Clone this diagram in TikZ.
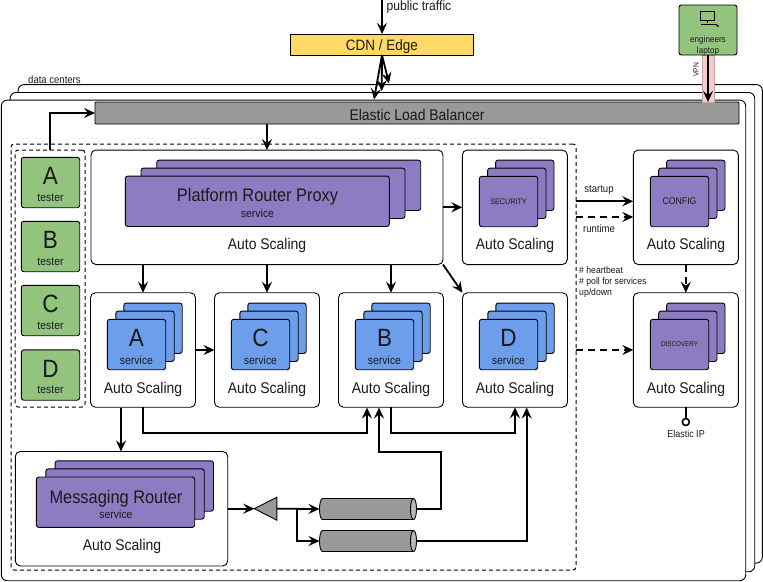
\documentclass[tikz,border=0pt]{standalone}
\usepackage{fontspec}
\setmainfont[FakeStretch=0.9]{Liberation Sans}
\usetikzlibrary{arrows.meta,shapes.geometric,calc}

\definecolor{svcpurple}{HTML}{8E7CC3}
\definecolor{svcblue}{HTML}{6D9EEB}
\definecolor{testgreen}{HTML}{93C47D}
\definecolor{edgeyellow}{HTML}{FFD966}
\definecolor{lbgray}{HTML}{999999}
\definecolor{vpnpink}{HTML}{F4CCCC}
\definecolor{ink}{HTML}{1A1A1A}

\tikzset{
  base/.style={draw=black,line width=0.9pt,inner sep=0pt,outer sep=0pt,text=ink},
  frame/.style={base,rounded corners=6pt,fill=white},
  zone/.style={base,line width=1pt,dash pattern=on 4pt off 3pt,rounded corners=3pt},
  scaler/.style={base,rounded corners=5pt,fill=white,minimum width=105pt,minimum height=114.5pt},
  card/.style={base,rounded corners=2.5pt,minimum width=58.4pt,minimum height=50.4pt},
  wide/.style={card,fill=svcpurple,minimum width=264pt},
  long/.style={card,fill=svcpurple,minimum width=158.4pt},
  sec/.style={card,fill=svcpurple},
  svc/.style={card,fill=svcblue},
  tester/.style={card,fill=testgreen},
  bar/.style={base,fill=lbgray,rounded corners=1pt},
  queue/.style={base,cylinder,inner sep=10pt,shape aspect=0.3,cylinder uses custom fill,cylinder body fill=lbgray,
    cylinder end fill=lbgray!70,minimum width=21pt,minimum height=97pt,anchor=west},
  flow/.style={line width=1.8pt},
  broken/.style={flow,dash pattern=on 7pt off 5pt},
  txt/.style={inner sep=0pt,text=ink,align=center},
  scaling/.style={txt,font=\fontsize{15.5}{17}\selectfont},
  big/.style={txt,font=\fontsize{18.2}{20}\selectfont},
  letter/.style={txt,font=\fontsize{25}{26}\selectfont},
  sub/.style={txt,font=\fontsize{11.6}{12}\selectfont},
  note/.style={txt,font=\fontsize{10.6}{11}\selectfont},
}

\begin{document}
\begin{tikzpicture}[x=1pt,y=-1pt,>={Stealth[length=11pt,width=10pt,inset=4pt]}]
\useasboundingbox (0,0) rectangle (763,581);

% data centers
\node[frame,minimum width=744.3pt,minimum height=478.5pt] (dc3) at (390.2,323.8) {};
\node[frame,minimum width=744.7pt,minimum height=479.2pt] (dc2) at (382.4,332.1) {};
\node[frame,minimum width=744.4pt,minimum height=480.7pt] (dc1) at (373.5,340.4) {};
\node[note,anchor=west] (dclabel) at (28,79.5) {data centers};

\node[base,fill=edgeyellow,minimum width=182.5pt,minimum height=21pt,font=\fontsize{15}{16}\selectfont,text height=12.4pt,text depth=0pt] (cdn) at (382,44.5) {CDN / Edge};
\node[bar,minimum width=644pt,minimum height=22pt,font=\fontsize{15.5}{16}\selectfont,text height=14pt,text depth=0pt] (elb) at (417,113) {Elastic Load Balancer};

% laptop and vpn
\node[draw=vpnpink!80!black,line width=0.4pt,fill=vpnpink,minimum width=12pt,minimum height=47pt,inner sep=0pt] (vpn) at (708,78.5) {};
\node[base,fill=testgreen,rounded corners=2.5pt,minimum width=58pt,minimum height=50pt] (laptop) at (708,30) {};
\draw[line width=1pt] (700.5,11) rectangle (714.5,20.5);
\draw[line width=1pt] (707.5,20.5) -- (707.5,23);
\draw[line width=1.6pt] (700.5,24.5) -- (716,24.5);
\draw[line width=1.2pt] (716,24.5) -- (718.5,26.5);
\node[txt,font=\fontsize{9}{11}\selectfont] (laptoplabel) at (708,46) {engineers\\laptop};
\node[txt,font=\fontsize{7.5}{8}\selectfont,rotate=90] (vpnlabel) at (696,70) {VPN};

% availability zone
\node[zone,minimum width=565pt,minimum height=426pt] (zone) at (293.5,357) {};
\node[zone,minimum width=70pt,minimum height=257pt] (testers) at (50,278.5) {};

\node[tester] (ta) at (50.5,182.5) {};
\node[tester] (tb) at (50.5,246.5) {};
\node[tester] (tc) at (50.5,310.5) {};
\node[tester] (td) at (50.5,375) {};
\node[letter] (taname) at (50.5,176) {A};
\node[letter] (tbname) at (50.5,240) {B};
\node[letter] (tcname) at (50.5,304) {C};
\node[letter] (tdname) at (50.5,368.5) {D};
\node[sub] (talabel) at (50.5,197.5) {tester};
\node[sub] (tblabel) at (50.5,261.5) {tester};
\node[sub] (tclabel) at (50.5,325.5) {tester};
\node[sub] (tdlabel) at (50.5,390) {tester};

% platform router
\node[scaler,minimum width=352pt] (routerbox) at (267,207.3) {};
\node[wide] (r3) at (288.7,185.3) {};
\node[wide] (r2) at (273,193.3) {};
\node[wide] (r1) at (257.3,201.3) {};
\node[big] (rname) at (257.5,196.5) {Platform Router Proxy};
\node[sub] (rsub) at (257.5,213) {service};
\node[scaling] (rscale) at (267,245.5) {Auto Scaling};

% security
\node[scaler] (secbox) at (514.8,207.3) {};
\node[sec] (s3) at (524.8,185.3) {};
\node[sec] (s2) at (516.8,193.3) {};
\node[sec] (s1) at (508.5,201.5) {};
\node[txt,font=\fontsize{8}{9}\selectfont] (sname) at (508.5,201.5) {SECURITY};
\node[scaling] (sscale) at (515,245.5) {Auto Scaling};

% config
\node[scaler] (cfgbox) at (685.8,207.3) {};
\node[sec] (f3) at (695.8,185.3) {};
\node[sec] (f2) at (687.8,193.3) {};
\node[sec] (f1) at (679.5,201.5) {};
\node[txt,font=\fontsize{9.7}{10}\selectfont] (fname) at (679.5,201.5) {CONFIG};
\node[scaling] (fscale) at (686,245.5) {Auto Scaling};

% discovery
\node[scaler] (discbox) at (685.8,350) {};
\node[sec] (d3) at (695.8,328.3) {};
\node[sec] (d2) at (687.8,336.3) {};
\node[sec] (d1) at (679.5,344.5) {};
\node[txt,font=\fontsize{7}{9}\selectfont] (dname) at (679.5,344.5) {DISCOVERY};
\node[scaling] (dscale) at (686,389) {Auto Scaling};

% services
\node[scaler] (abox) at (143,350) {};
\node[svc] (a3) at (153,328.3) {};
\node[svc] (a2) at (145,336.3) {};
\node[svc] (a1) at (136.5,344.5) {};
\node[letter] (aname) at (136.5,338) {A};
\node[sub] (asub) at (136.5,360) {service};
\node[scaling] (ascale) at (143,389) {Auto Scaling};

\node[scaler] (cbox) at (267,350) {};
\node[svc] (c3) at (277,328.3) {};
\node[svc] (c2) at (269,336.3) {};
\node[svc] (c1) at (260.5,344.5) {};
\node[letter] (cname) at (260.5,338) {C};
\node[sub] (csub) at (260.5,360) {service};
\node[scaling] (cscale) at (267,389) {Auto Scaling};

\node[scaler] (bbox) at (391,350) {};
\node[svc] (b3) at (401,328.3) {};
\node[svc] (b2) at (393,336.3) {};
\node[svc] (b1) at (384.5,344.5) {};
\node[letter] (bname) at (384.5,338) {B};
\node[sub] (bsub) at (384.5,360) {service};
\node[scaling] (bscale) at (391,389) {Auto Scaling};

\node[scaler] (dbox) at (515,350) {};
\node[svc] (e3) at (525,328.3) {};
\node[svc] (e2) at (517,336.3) {};
\node[svc] (e1) at (508.5,344.5) {};
\node[letter] (ename) at (508.5,338) {D};
\node[sub] (esub) at (508.5,360) {service};
\node[scaling] (escale) at (515,389) {Auto Scaling};

% messaging
\node[scaler,minimum width=212.4pt] (msgbox) at (121.5,508.7) {};
\node[long] (m3) at (134.3,486) {};
\node[long] (m2) at (125,494) {};
\node[long] (m1) at (115.5,502.2) {};
\node[big] (mname) at (116,498.5) {Messaging Router};
\node[sub] (msub) at (116,514.5) {service};
\node[scaling] (mscale) at (122,546) {Auto Scaling};

\node[base,fill=lbgray,isosceles triangle,isosceles triangle apex angle=54,shape border rotate=180,minimum height=22.4pt,minimum width=23pt,anchor=apex] (tri) at (254.3,508.7) {};
\node[queue] (q1) at (319.5,509) {};
\node[queue] (q2) at (319.5,541) {};

% labels
\node[txt,font=\fontsize{13.5}{14}\selectfont,anchor=west] (publiclabel) at (386.5,7) {public traffic};
\node[note] (startup) at (599,190) {startup};
\node[note] (runtime) at (599,228.5) {runtime};
\node[txt,font=\fontsize{9.6}{11}\selectfont,anchor=west,align=left] (hbnote) at (579,282) {\# heartbeat\\\# poll for services\\up/down};
\node[txt,font=\fontsize{10}{11}\selectfont] (eiplabel) at (686,434) {Elastic IP};
\node[base,circle,fill=white,line width=1.6pt,minimum size=7pt] (eip) at (685.8,422) {};

\coordinate (dcpin1) at (374,99.5);
\coordinate (dcpin2) at (381.7,91);
\coordinate (dcpin3) at (389,83.5);
\coordinate (inet) at (382,0);
\coordinate (atap) at (121,407.5);
\coordinate (bus) at (0,433);
\coordinate (binl) at (367,407.5);
\coordinate (binr) at (379,407.5);
\coordinate (dinr) at (526.7,407.5);
\coordinate (bend) at (441,452);
\coordinate (split) at (297,508.7);
\coordinate (startout) at (576,201.3);
\coordinate (runout) at (576,217);
\coordinate (discout) at (576,350);

\draw[flow,->] (inet) -- (cdn.north);
\draw[flow,->] (cdn.south) -- (dcpin1);
\draw[flow,->] (cdn.south) -- (dcpin2);
\draw[flow,->] (cdn.south) -- (dcpin3);
\draw[flow,->] (laptop.south) -- (laptop.south |- elb.north);
\draw[flow,->] (testers.north) |- (elb.west);
\draw[flow,->] (elb.south -| routerbox.north) -- (routerbox.north);
\draw[flow,->] (routerbox.south -| abox.north) -- (abox.north);
\draw[flow,->] (routerbox.south -| cbox.north) -- (cbox.north);
\draw[flow,->] (routerbox.south -| bbox.north) -- (bbox.north);
\draw[flow,->] (routerbox.south east) -- (dbox.north west);
\draw[flow,->] (routerbox.east |- secbox.west) -- (secbox.west);
\draw[flow,->] (abox.east) -- (cbox.west);
\draw[flow,->] (atap) -- (atap |- msgbox.north);
\draw[flow,->] (abox.south) |- (binl |- bus) -- (binl);
\draw[flow,->] (bbox.south) |- (dbox.south |- bus) -- (dbox.south);
\draw[flow,->] (startout) -- (startout -| cfgbox.west);
\draw[broken,->] (runout) -- (runout -| cfgbox.west);
\draw[broken,->] (discout) -- (discbox.west);
\draw[broken,->] (cfgbox.south) -- (discbox.north);
\draw[flow] (discbox.south) -- (eip.north);
\draw[flow,->] (msgbox.east) -- (tri.apex);
\draw[flow,->] (tri.east) -- (q1.west);
\draw[flow,->] (split) |- (q2.west);
\draw[flow,->] (q1.east) -| (bend) -| (binr);
\draw[flow,->] (q2.east) -| (dinr);
\end{tikzpicture}
\end{document}
